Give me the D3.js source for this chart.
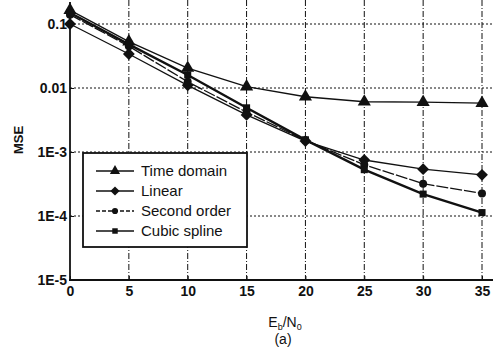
<!DOCTYPE html>
<html><head><meta charset="utf-8">
<script src="https://cdn.jsdelivr.net/npm/d3@7"></script>
<style>body{margin:0;background:#fff}svg{display:block}text{font-family:"Liberation Sans",Arial,sans-serif;fill:#111}</style>
</head><body><svg id="c" width="494" height="349"></svg>
<script>
const ebn0 = [0, 5, 10, 15, 20, 25, 30, 35];
const timeDomain = [0.165, 0.053, 0.0205, 0.0105, 0.0073, 0.0061, 0.006, 0.0058];
const linear = [0.1, 0.034, 0.011, 0.0038, 0.00148, 0.00075, 0.00054, 0.00044];
const secondOrder = [0.14, 0.045, 0.0125, 0.0042, 0.00152, 0.00063, 0.00032, 0.000225];
const cubicSpline = [0.15, 0.048, 0.016, 0.0049, 0.00155, 0.00053, 0.00022, 0.000113];
const xTicks = [0, 5, 10, 15, 20, 25, 30, 35];
const yTicks = [1e-5, 1e-4, 1e-3, 0.01, 0.1];
const yTickLabels = ["1E-5", "1E-4", "1E-3", "0.01", "0.1"];
const seriesNames = ["Time domain", "Linear", "Second order", "Cubic spline"];

const svg = d3.select("#c");
const x = d3.scaleLinear().domain([0, 35]).range([70, 482]);
const y = d3.scaleLog().domain([1e-5, 0.1]).range([280, 24]);
const ink = "#111";

// square diamond symbol
const symDiamondSq = {draw(ctx, size) { const r = Math.sqrt(size / 2); ctx.moveTo(0, -r); ctx.lineTo(r, 0); ctx.lineTo(0, r); ctx.lineTo(-r, 0); ctx.closePath(); }};

// grid
svg.append("g").selectAll("line").data(xTicks.slice(1)).join("line")
  .attr("x1", d => x(d)).attr("x2", d => x(d)).attr("y1", 0).attr("y2", 280)
  .attr("stroke", ink).attr("stroke-width", 1).attr("stroke-dasharray", "6,2,1,2");
svg.append("g").selectAll("line").data(yTicks.slice(1)).join("line")
  .attr("x1", 70).attr("x2", 492).attr("y1", d => y(d)).attr("y2", d => y(d))
  .attr("stroke", ink).attr("stroke-width", 1).attr("stroke-dasharray", "2,2");

// axes
const xAxis = svg.append("g").attr("transform", "translate(0,280)")
  .call(d3.axisBottom(x).tickValues(xTicks).tickSize(-4).tickPadding(6));
xAxis.select(".domain").remove();
xAxis.append("line").attr("x1", 69).attr("x2", 493).attr("stroke", ink).attr("stroke-width", 1.8);
xAxis.selectAll("text").attr("font-size", 14).attr("font-weight", "bold").attr("fill", ink);
xAxis.selectAll(".tick line").attr("stroke", ink);

const yAxis = svg.append("g").attr("transform", "translate(70,0)")
  .call(d3.axisLeft(y).tickValues(yTicks).tickFormat((d, i) => yTickLabels[i]).tickSize(-4).tickPadding(3));
yAxis.select(".domain").remove();
yAxis.append("line").attr("y1", 2).attr("y2", 281).attr("stroke", ink).attr("stroke-width", 1.8);
yAxis.selectAll("text").attr("font-size", 14).attr("font-weight", "bold").attr("fill", ink);
yAxis.selectAll(".tick line").attr("stroke", ink);

// series
const series = [
  {name: seriesNames[0], v: timeDomain, sym: d3.symbolTriangle, size: 75, w: 1.3, dash: null},
  {name: seriesNames[1], v: linear, sym: symDiamondSq, size: 70, w: 1.3, dash: null},
  {name: seriesNames[2], v: secondOrder, sym: d3.symbolCircle, size: 50, w: 1.3, dash: "12,2"},
  {name: seriesNames[3], v: cubicSpline, sym: d3.symbolSquare, size: 50, w: 2.4, dash: null}
];
const line = d3.line().x((d, i) => x(ebn0[i])).y(d => y(d));
series.forEach(s => {
  svg.append("path").attr("d", line(s.v)).attr("fill", "none").attr("stroke", ink)
    .attr("stroke-width", s.w).attr("stroke-dasharray", s.dash);
  svg.append("g").selectAll("path").data(s.v).join("path")
    .attr("transform", (d, i) => `translate(${x(ebn0[i])},${y(d)})`)
    .attr("d", d3.symbol(s.sym, s.size)()).attr("fill", ink);
});

// legend
const lg = svg.append("g");
lg.append("rect").attr("x", 83).attr("y", 153).attr("width", 164).attr("height", 94)
  .attr("fill", "#fff").attr("stroke", ink).attr("stroke-width", 1.8);
series.forEach((s, i) => {
  const ly = 171 + i * 20;
  lg.append("line").attr("x1", 96).attr("x2", 134).attr("y1", ly).attr("y2", ly)
    .attr("stroke", ink).attr("stroke-width", 1.3).attr("stroke-dasharray", i === 2 ? "4,2" : null);
  lg.append("path").attr("transform", `translate(115,${ly})`)
    .attr("d", d3.symbol(s.sym, s.size * 0.6)()).attr("fill", ink);
  lg.append("text").attr("x", 141).attr("y", ly + 5).attr("font-size", 15).text(s.name);
});

// titles
const xt = svg.append("text").attr("x", 285).attr("y", 327).attr("text-anchor", "middle").attr("font-size", 14);
xt.append("tspan").text("E");
xt.append("tspan").attr("font-size", 9).attr("dy", 3).text("b");
xt.append("tspan").attr("dy", -3).text("/N");
xt.append("tspan").attr("font-size", 9).attr("dy", 3).text("0");
svg.append("text").attr("x", 283).attr("y", 344).attr("text-anchor", "middle").attr("font-size", 14).text("(a)");
svg.append("text").attr("transform", "translate(23,140) rotate(-90)").attr("text-anchor", "middle")
  .attr("font-size", 13).attr("font-weight", "bold").text("MSE");
</script></body></html>
